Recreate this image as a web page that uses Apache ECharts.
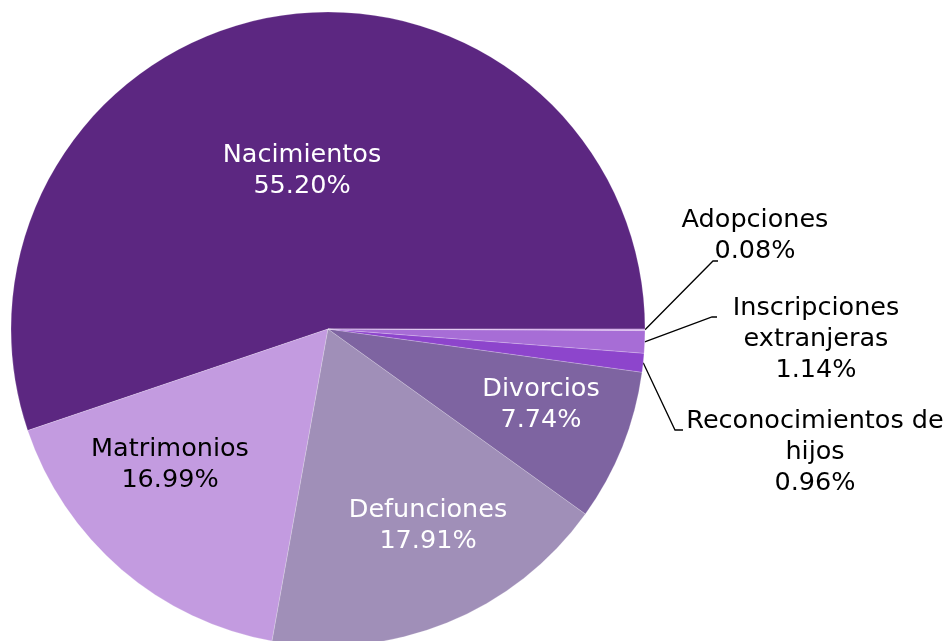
<!DOCTYPE html>
<html>
<head>
<meta charset="utf-8">
<script src="https://cdn.jsdelivr.net/npm/echarts@6/dist/echarts.min.js"></script>
<style>
  html, body { margin: 0; padding: 0; background: #fff; }
  #main { width: 951px; height: 641px; }
</style>
</head>
<body>
<div id="main"></div>
<script>
// datos (porcentaje de registros por tipo)
var categories = ["Nacimientos", "Matrimonios", "Defunciones", "Divorcios", "Reconocimientos de hijos", "Inscripciones extranjeras", "Adopciones"];
var labelNames = ["Nacimientos", "Matrimonios", "Defunciones", "Divorcios", "Reconocimientos de\nhijos", "Inscripciones\nextranjeras", "Adopciones"];
var percents = [55.20, 16.99, 17.91, 7.74, 0.96, 1.14, 0.08];

var colors = ["#5c2781", "#c39be0", "#a08fb8", "#7e64a1", "#8d45cc", "#a76dd6", "#d3a8ea"];
var textColors = ["#fff", "#000", "#fff", "#fff", "#000", "#000", "#000"];

var cx = 328, cy = 329, R = 317;

// donde va cada etiqueta, relativo al centro del pastel
var labelSpots = [
  { dx: -26, dy: -158 },
  { dx: -158, dy: 136 },
  { dx: 100, dy: 197 },
  { dx: 213, dy: 76 },
  { dx: 487, dy: 123, elbow: [[347, 101], [355, 101]] },
  { dx: 488, dy: 10, elbow: [[384, -12], [389, -12]] },
  { dx: 427, dy: -93, elbow: [[385, -68], [390, -68]] }
];

var total = percents.reduce(function (a, b) { return a + b; }, 0);
function midAngle(i) {
  var before = 0;
  for (var k = 0; k < i; k++) before += percents[k];
  return (before + percents[i] / 2) / total * Math.PI * 2;
}

var chart = echarts.init(document.getElementById("main"));
chart.setOption({
  animation: false,
  series: [
    {
      type: "pie",
      center: [cx, cy],
      radius: R,
      startAngle: 0,
      clockwise: false,
      avoidLabelOverlap: false,
      emphasis: { disabled: true },
      itemStyle: {
        borderColor: "rgba(255,255,255,0.2)",
        borderWidth: 1
      },
      label: {
        fontFamily: "DejaVu Sans",
        fontSize: 25.5,
        lineHeight: 31,
        align: "center",
        formatter: function (p) {
          return labelNames[p.dataIndex] + "\n" + percents[p.dataIndex].toFixed(2) + "%";
        }
      },
      labelLine: { lineStyle: { color: "#000", width: 1.3 } },
      labelLayout: function (params) {
        var i = params.dataIndex;
        var s = labelSpots[i];
        var out = {
          x: cx + s.dx,
          y: cy + s.dy,
          align: "center",
          verticalAlign: "middle"
        };
        if (s.elbow) {
          var a = midAngle(i);
          out.labelLinePoints = [
            [cx + R * Math.cos(a), cy - R * Math.sin(a)],
            [cx + s.elbow[0][0], cy + s.elbow[0][1]],
            [cx + s.elbow[1][0], cy + s.elbow[1][1]]
          ];
        }
        return out;
      },
      data: percents.map(function (v, i) {
        var outside = i >= 4;
        return {
          name: categories[i],
          value: v,
          itemStyle: { color: colors[i] },
          label: { position: outside ? "outside" : "inside", color: textColors[i] },
          labelLine: { show: outside }
        };
      })
    }
  ]
});
</script>
</body>
</html>
